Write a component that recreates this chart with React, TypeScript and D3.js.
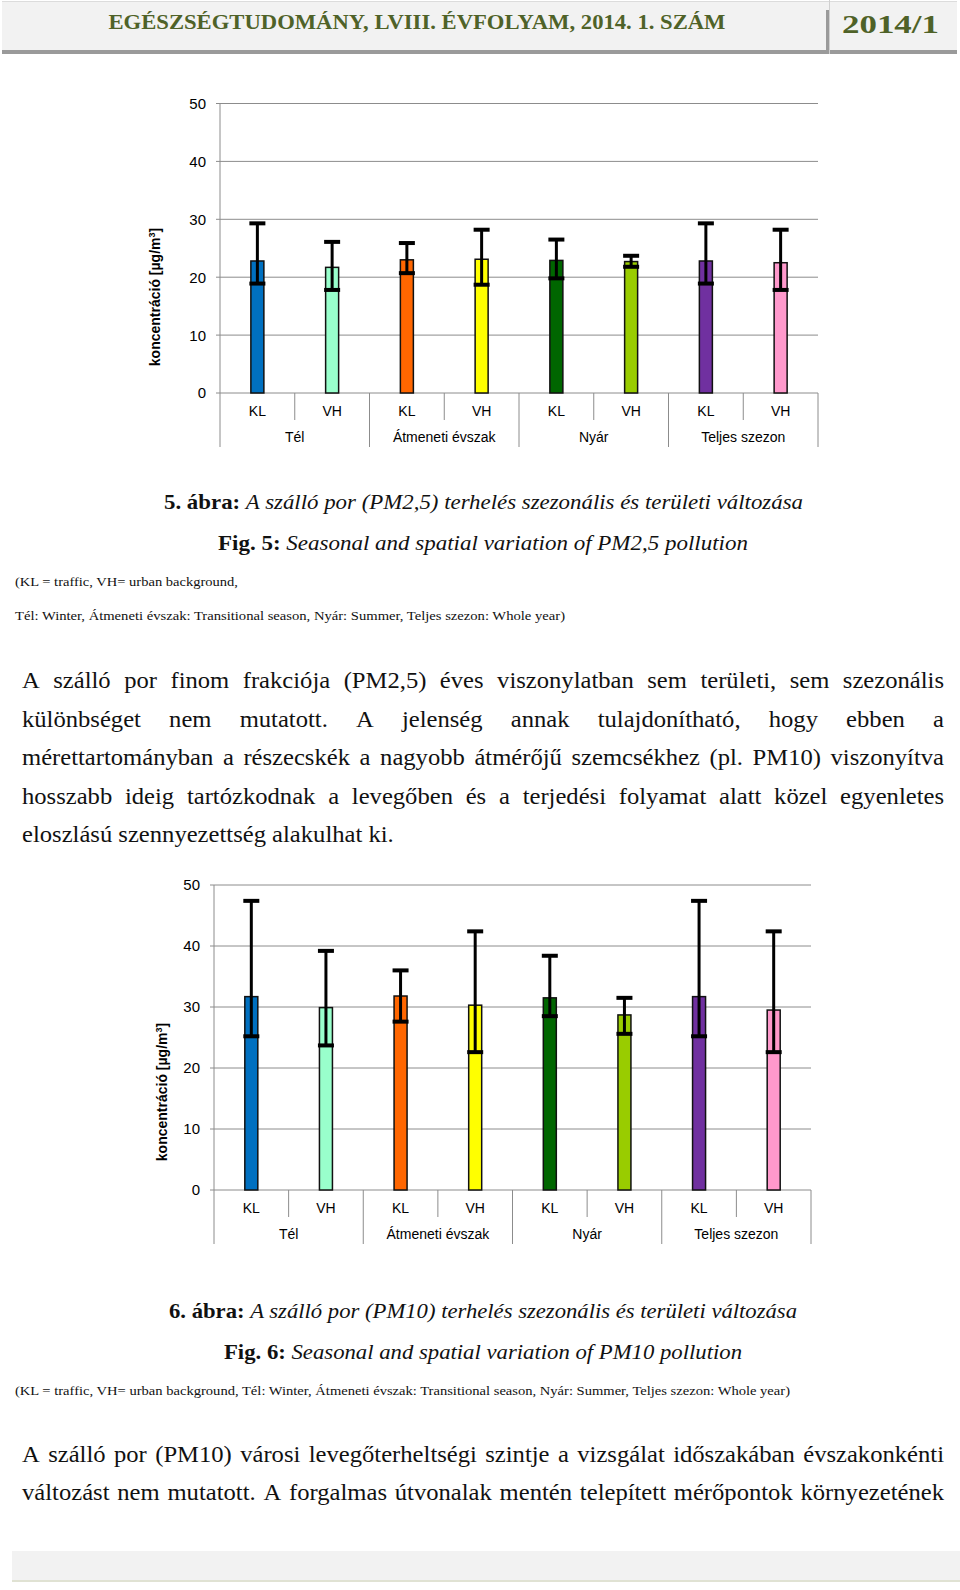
import React from 'react';
import * as d3 from 'd3';

// ---------- data ----------
const seasons = ['Tél', 'Átmeneti évszak', 'Nyár', 'Teljes szezon'];
const sites = ['KL', 'VH'];
const yTicks = [0, 10, 20, 30, 40, 50];

const pm25Mean = [22.8, 21.7, 23.0, 23.1, 22.9, 22.7, 22.8, 22.5];
const pm25Upper = [29.3, 26.1, 25.9, 28.2, 26.5, 23.7, 29.3, 28.2];
const pm25Lower = [18.9, 17.8, 20.7, 18.7, 19.8, 21.8, 18.9, 17.8];

const pm10Mean = [31.7, 29.9, 31.8, 30.3, 31.5, 28.7, 31.7, 29.5];
const pm10Upper = [47.4, 39.2, 36.0, 42.4, 38.4, 31.5, 47.4, 42.4];
const pm10Lower = [25.2, 23.7, 27.6, 22.6, 28.5, 25.6, 25.2, 22.6];

const barColors = ['#0070C0', '#99FFCC', '#FF6600', '#FFFF00', '#006600', '#99CC00', '#7030A0', '#FF99CC'];

const headerTitle = 'EGÉSZSÉGTUDOMÁNY, LVIII. ÉVFOLYAM, 2014. 1. SZÁM';
const headerIssue = '2014/1';

const para1 = [
  'A szálló por finom frakciója (PM2,5) éves viszonylatban sem területi, sem szezonális',
  'különbséget nem mutatott. A jelenség annak tulajdonítható, hogy ebben a',
  'mérettartományban a részecskék a nagyobb átmérőjű szemcsékhez (pl. PM10) viszonyítva',
  'hosszabb ideig tartózkodnak a levegőben és a terjedési folyamat alatt közel egyenletes',
  'eloszlású szennyezettség alakulhat ki.',
];
const para2 = [
  'A szálló por (PM10) városi levegőterheltségi szintje a vizsgálat időszakában évszakonkénti',
  'változást nem mutatott. A forgalmas útvonalak mentén telepített mérőpontok környezetének',
];

const SERIF = "'Liberation Serif', 'DejaVu Serif', serif";
const SANS = "'Liberation Sans', Arial, sans-serif";

// ---------- helpers ----------
let _ctx: CanvasRenderingContext2D | null = null;
function measure(text: string, font: string): number {
  if (!_ctx) {
    const c = document.createElement('canvas');
    _ctx = c.getContext('2d');
  }
  if (!_ctx) return text.length * 9;
  _ctx.font = font;
  return _ctx.measureText(text).width;
}

const WORD_STRETCH = 1.07;

function JustifiedLine({ text, x0, x1, y, size, justify }: { text: string; x0: number; x1: number; y: number; size: number; justify: boolean }) {
  const font = `${size}px 'Liberation Serif'`;
  const words = text.split(' ');
  const widths = words.map((w) => measure(w, font));
  const spaceW = measure(' ', font) * WORD_STRETCH;
  const W = x1 - x0;
  let k = WORD_STRETCH;
  const S = d3.sum(widths);
  const minGap = size * 0.22;
  if (justify && S * k + (words.length - 1) * minGap > W) k = (W - (words.length - 1) * minGap) / S;
  const gap = justify ? (W - S * k) / (words.length - 1) : spaceW;
  let cx = x0;
  return (
    <g>
      {words.map((w, i) => {
        const xx = cx;
        cx += widths[i] * k + gap;
        return (
          <text
            key={i}
            x={xx}
            y={y}
            fontFamily={SERIF}
            fontSize={size}
            fill="#111"
            textLength={widths[i] * k}
            lengthAdjust="spacingAndGlyphs"
          >
            {w}
          </text>
        );
      })}
    </g>
  );
}

type ChartProps = {
  left: number;
  right: number;
  y0: number;
  y50: number;
  mean: number[];
  upper: number[];
  lower: number[];
  titleX: number;
  titleY: number;
};

function BarChart(p: ChartProps) {
  const cats = seasons.flatMap((s) => sites.map((k) => `${s}|${k}`));
  const x = d3.scaleBand<string>().domain(cats).range([p.left, p.right]).paddingInner(0).paddingOuter(0);
  const y = d3.scaleLinear().domain([0, 50]).range([p.y0, p.y50]);
  const bw = 13;
  const band = x.bandwidth();
  const gridColor = '#8c8c8c';
  return (
    <g>
      {/* gridlines */}
      {yTicks.map((t) => (
        <g key={t}>
          <line x1={p.left - 4} x2={p.right} y1={y(t)} y2={y(t)} stroke={gridColor} strokeWidth={1} />
          <text x={p.left - 14} y={y(t)} dy="0.36em" textAnchor="end" fontFamily={SANS} fontSize={15} fill="#000">
            {t}
          </text>
        </g>
      ))}
      {/* y axis */}
      <line x1={p.left} x2={p.left} y1={y(50)} y2={p.y0 + 54} stroke={gridColor} strokeWidth={1} />
      {/* separators */}
      {seasons.map((s, i) => {
        const xs = x(`${s}|VH`) as number;
        return <line key={'m' + i} x1={xs} x2={xs} y1={p.y0} y2={p.y0 + 27} stroke={gridColor} strokeWidth={1} />;
      })}
      {seasons.map((s, i) => {
        const xe = (x(`${s}|VH`) as number) + band;
        return <line key={'g' + i} x1={xe} x2={xe} y1={p.y0} y2={p.y0 + 54} stroke={gridColor} strokeWidth={1} />;
      })}
      {/* bars */}
      {cats.map((c, i) => {
        const cx = (x(c) as number) + band / 2;
        return (
          <g key={c}>
            <rect
              x={cx - bw / 2}
              y={y(p.mean[i])}
              width={bw}
              height={p.y0 - y(p.mean[i])}
              fill={barColors[i]}
              stroke="#111"
              strokeWidth={1.5}
            />
            <line x1={cx} x2={cx} y1={y(p.upper[i])} y2={y(p.lower[i])} stroke="#000" strokeWidth={3} />
            <rect x={cx - 8} y={y(p.upper[i]) - 2} width={16} height={4} fill="#000" />
            <rect x={cx - 8} y={y(p.lower[i]) - 2} width={16} height={4} fill="#000" />
          </g>
        );
      })}
      {/* category labels */}
      {cats.map((c) => {
        const cx = (x(c) as number) + band / 2;
        return (
          <text key={'l' + c} x={cx} y={p.y0 + 23} textAnchor="middle" fontFamily={SANS} fontSize={14} fill="#000">
            {c.split('|')[1]}
          </text>
        );
      })}
      {seasons.map((s) => {
        const cx = x(`${s}|VH`) as number;
        return (
          <text key={'s' + s} x={cx} y={p.y0 + 49} textAnchor="middle" fontFamily={SANS} fontSize={14} fill="#000">
            {s}
          </text>
        );
      })}
      {/* y title */}
      <text
        transform={`translate(${p.titleX},${p.titleY}) rotate(-90)`}
        textAnchor="middle"
        dy="0.35em"
        fontFamily={SANS}
        fontWeight="bold"
        fontSize={14}
        fill="#000"
      >
        koncentráció [µg/m<tspan dy="-5" fontSize={9}>3</tspan>
        <tspan dy="5">]</tspan>
      </text>
    </g>
  );
}

function Caption({ bold, italic, x0, x1, y, size }: { bold: string; italic: string; x0: number; x1: number; y: number; size: number }) {
  return (
    <text x={x0} y={y} fontFamily={SERIF} fontSize={size} fill="#111" textLength={x1 - x0} lengthAdjust="spacingAndGlyphs">
      <tspan fontWeight="bold">{bold}</tspan>
      <tspan fontStyle="italic">{italic}</tspan>
    </text>
  );
}

function Note({ text, x0, x1, y }: { text: string; x0: number; x1: number; y: number }) {
  return (
    <text x={x0} y={y} fontFamily={SERIF} fontSize={13.5} fill="#111" textLength={x1 - x0} lengthAdjust="spacingAndGlyphs">
      {text}
    </text>
  );
}

export default function App() {
  return (
    <svg
      width={960}
      height={1590}
      viewBox="0 0 960 1590"
      style={{ position: 'absolute', left: 0, top: 0, display: 'block', background: '#fff' }}
    >
      {/* header */}
      <rect x={2} y={1} width={955} height={50} fill="#f2f2f2" />
      <line x1={2} x2={957} y1={1.5} y2={1.5} stroke="#dcdcdc" strokeWidth={1} />
      <rect x={2} y={50} width={955} height={4} fill="#9a9a9a" />
      <line x1={829.5} x2={829.5} y1={0} y2={54} stroke="#d0d0d0" strokeWidth={1} />
      <rect x={826} y={10} width={3} height={44} fill="#9a9a9a" />
      <text
        x={108.5}
        y={28.5}
        fontFamily={SERIF}
        fontWeight="bold"
        fontSize={20}
        fill="#4F6228"
        textLength={617}
        lengthAdjust="spacingAndGlyphs"
      >
        {headerTitle}
      </text>
      <text
        x={842}
        y={33}
        fontFamily={SERIF}
        fontWeight="bold"
        fontSize={26}
        fill="#4F6228"
        textLength={97}
        lengthAdjust="spacingAndGlyphs"
      >
        {headerIssue}
      </text>

      {/* chart 1: PM2.5 */}
      <BarChart
        left={220}
        right={818}
        y0={393}
        y50={103.5}
        mean={pm25Mean}
        upper={pm25Upper}
        lower={pm25Lower}
        titleX={155}
        titleY={297}
      />

      <Caption
        bold="5. ábra: "
        italic="A szálló por (PM2,5)  terhelés szezonális és területi változása"
        x0={164}
        x1={803}
        y={509}
        size={21}
      />
      <Caption bold="Fig. 5: " italic="Seasonal and spatial variation of PM2,5 pollution" x0={218} x1={748} y={550} size={21} />
      <Note text="(KL = traffic, VH= urban background," x0={15} x1={238} y={586} />
      <Note
        text="Tél: Winter, Átmeneti évszak: Transitional season, Nyár: Summer, Teljes szezon: Whole year)"
        x0={15}
        x1={565}
        y={620}
      />

      {para1.map((t, i) => (
        <JustifiedLine key={i} text={t} x0={22} x1={944} y={688 + i * 38.5} size={23} justify={i < para1.length - 1} />
      ))}

      {/* chart 2: PM10 */}
      <BarChart
        left={214}
        right={811}
        y0={1190}
        y50={885}
        mean={pm10Mean}
        upper={pm10Upper}
        lower={pm10Lower}
        titleX={162}
        titleY={1092}
      />

      <Caption
        bold="6. ábra: "
        italic="A szálló por (PM10) terhelés szezonális és területi változása"
        x0={169}
        x1={797}
        y={1318}
        size={21}
      />
      <Caption bold="Fig. 6: " italic="Seasonal and spatial variation of PM10 pollution" x0={224} x1={742} y={1359} size={21} />
      <Note
        text="(KL = traffic, VH= urban background, Tél: Winter, Átmeneti évszak: Transitional season, Nyár: Summer, Teljes szezon: Whole year)"
        x0={15}
        x1={790}
        y={1395}
      />

      {para2.map((t, i) => (
        <JustifiedLine key={i} text={t} x0={22} x1={944} y={1462 + i * 37.5} size={23} justify={true} />
      ))}

      {/* footer */}
      <rect x={12} y={1551} width={948} height={29} fill="#f2f2f2" />
      <line x1={12} x2={960} y1={1581} y2={1581} stroke="#d6d9c4" strokeWidth={1.5} />
    </svg>
  );
}
